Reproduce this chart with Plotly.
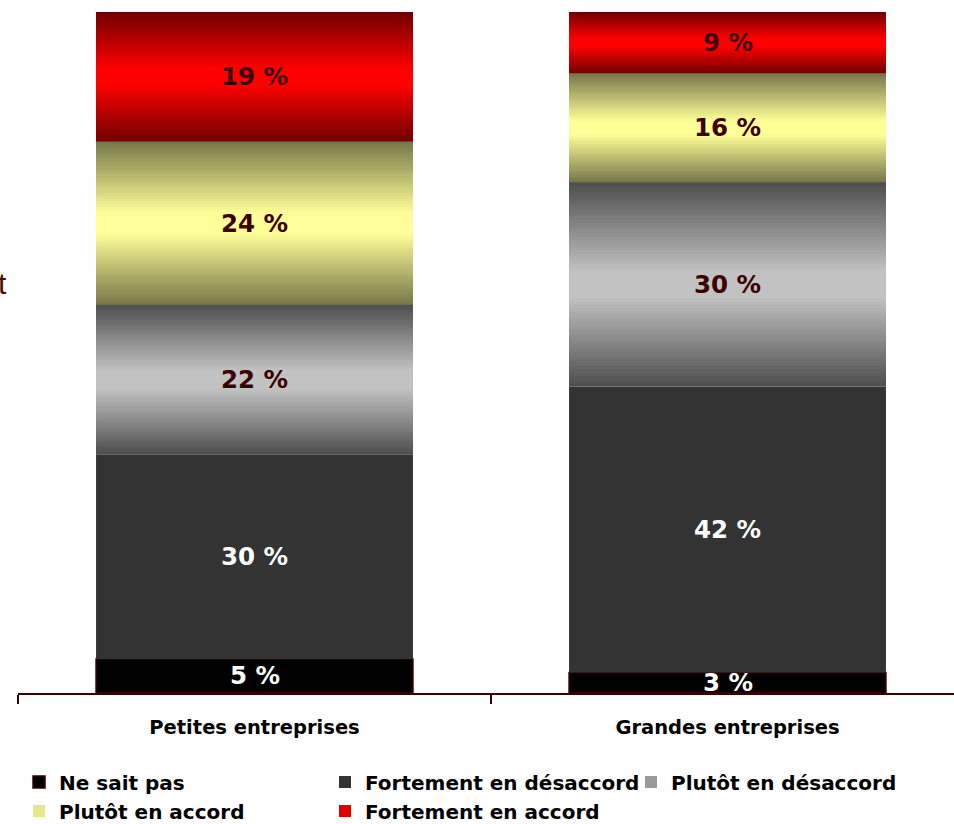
import plotly.graph_objects as go
import numpy as np

categories = ["Petites entreprises", "Grandes entreprises"]
series_names = ["Ne sait pas", "Fortement en désaccord", "Plutôt en désaccord",
                "Plutôt en accord", "Fortement en accord"]
ne_sait_pas = [5, 3]
fortement_desaccord = [30, 42]
plutot_desaccord = [22, 30]
plutot_accord = [24, 16]
fortement_accord = [19, 9]

values = [ne_sait_pas, fortement_desaccord, plutot_desaccord, plutot_accord, fortement_accord]

styles = [
    dict(flat="#000000", line="#3a0000", legend="#000000", text="#ffffff"),
    dict(flat="#333333", line=None, legend="#333333", text="#ffffff"),
    dict(edge=(0x4d, 0x4d, 0x4d), center=(0xc2, 0xc2, 0xc2), legend="#9a9a9a", text="#3d0000"),
    dict(edge=(0x76, 0x76, 0x48), center=(0xff, 0xff, 0x99), legend="#e6e68a", text="#3d0000"),
    dict(edge=(0x70, 0x00, 0x00), center=(0xff, 0x00, 0x00), legend="#e00000", text="#3d0000"),
]

BAR_W = 0.67
K = 60
FONT = "DejaVu Sans"

fig = go.Figure()

cum = np.zeros(len(categories))
bases = []
for vals in values:
    bases.append(cum.copy())
    cum = cum + np.array(vals, dtype=float)

for i, (name, vals, st) in enumerate(zip(series_names, values, styles)):
    fig.add_trace(go.Bar(
        x=categories, y=vals, base=list(bases[i]), name=name, width=BAR_W,
        marker=dict(color=st.get("flat", st["legend"]),
                    line=dict(color=st.get("line") or "rgba(0,0,0,0)",
                              width=1.5 if st.get("line") else 0)),
        legend="legend" if i < 3 else "legend2",
        hoverinfo="skip",
    ))

for i, (name, vals, st) in enumerate(zip(series_names, values, styles)):
    if "edge" not in st:
        continue
    v = np.array(vals, dtype=float)
    e = np.array(st["edge"], dtype=float)
    c = np.array(st["center"], dtype=float)
    for k in range(K):
        mid = (k + 0.5) / K
        d = abs(mid - 0.5) * 2
        f = min(max((d - 0.12) / 0.88, 0), 1)
        col = c + (e - c) * f
        color = "rgb(%d,%d,%d)" % tuple(np.round(col).astype(int))
        h = v / K * (3.0 if k < K - 1 else 1.0)
        fig.add_trace(go.Bar(
            x=categories, y=list(h), base=list(bases[i] + v * k / K),
            width=BAR_W, marker=dict(color=color, line=dict(width=0)),
            showlegend=False, hoverinfo="skip",
        ))

for i, (vals, st) in enumerate(zip(values, styles)):
    for j, cat in enumerate(categories):
        fig.add_annotation(
            x=cat, y=bases[i][j] + vals[j] / 2, xref="x", yref="y",
            text="%d %%" % vals[j], showarrow=False,
            font=dict(family=FONT, size=24.5, color=st["text"], weight="bold"),
        )

fig.add_annotation(
    xref="paper", yref="paper", x=0, y=(693 - 283) / 681, xanchor="right", xshift=-9,
    text="t", showarrow=False, font=dict(family="Liberation Sans", size=30, color="#4a0a0a"),
)

fig.update_layout(
    width=954, height=824,
    margin=dict(l=18, r=0, t=12, b=131),
    barmode="overlay",
    plot_bgcolor="white", paper_bgcolor="white",
    xaxis=dict(
        type="category", range=[-0.5, -0.5 + 936 / 473],
        tickson="boundaries", ticks="outside", ticklen=9, tickcolor="#3d0000", tickwidth=1.5,
        showline=True, linecolor="#3d0000", linewidth=2,
        ticklabelstandoff=16,
        tickfont=dict(family=FONT, size=19.5, color="#000000", weight="bold"),
        showgrid=False, zeroline=False,
    ),
    yaxis=dict(range=[0, 100], visible=False, showgrid=False, zeroline=False),
    legend=dict(
        orientation="h", xref="container", yref="container",
        x=19 / 954, y=1 - 782 / 824, xanchor="left", yanchor="middle",
        entrywidth=261, entrywidthmode="pixels",
        font=dict(family=FONT, size=20, color="#000000", weight="bold"),
        bgcolor="rgba(0,0,0,0)",
    ),
    legend2=dict(
        orientation="h", xref="container", yref="container",
        x=19 / 954, y=1 - 811 / 824, xanchor="left", yanchor="middle",
        entrywidth=261, entrywidthmode="pixels",
        font=dict(family=FONT, size=20, color="#000000", weight="bold"),
        bgcolor="rgba(0,0,0,0)",
    ),
    showlegend=True,
)

fig.write_html("out.html")
